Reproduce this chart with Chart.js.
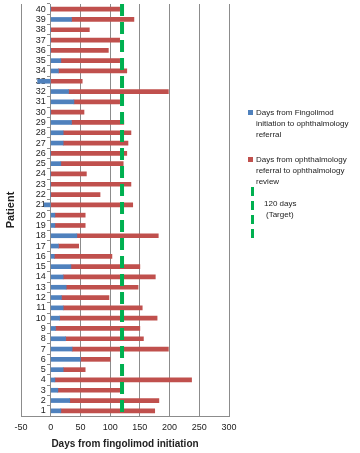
<!DOCTYPE html>
<html>
<head>
<meta charset="utf-8">
<script src="https://cdn.jsdelivr.net/npm/chart.js@4/dist/chart.umd.min.js"></script>
<style>
  body { margin: 0; background: #fff; }
</style>
</head>
<body>
<canvas id="mychart" width="360" height="453"></canvas>
<script>
'use strict';

// patients 1..40
const patients = ['1','2','3','4','5','6','7','8','9','10','11','12','13','14','15','16','17','18','19','20',
  '21','22','23','24','25','26','27','28','29','30','31','32','33','34','35','36','37','38','39','40'];

// days from fingolimod initiation to ophthalmology referral
const toReferral = [17,32,12,7,21,50,36,25,8,15,21,18,26,21,34,6,13,44,7,7,
  -11,0,0,0,17,0,21,21,35,0,39,30,-22,13,17,0,0,0,35,0];

// days from ophthalmology referral to ophthalmology review
const toReview = [158,150,106,230,37,50,162,131,142,164,133,80,121,155,116,97,34,137,51,51,
  138,83,135,60,105,128,109,114,88,56,77,168,53,115,99,97,116,65,105,116];

const xTicks = [-50,0,50,100,150,200,250,300];
const target = 120;

const blue = '#4f81bd';
const red = '#c0504d';
const green = '#00b050';
const font = "'Liberation Sans', sans-serif";

///////////////// target line + legend /////////////////
const extras = {
  id: 'extras',
  afterDatasetsDraw(chart) {
    const ctx = chart.ctx;
    const area = chart.chartArea;
    const x = chart.scales.x.getPixelForValue(target);
    ctx.save();
    ctx.strokeStyle = green;
    ctx.lineWidth = 4;
    ctx.setLineDash([12, 6]);
    ctx.beginPath();
    ctx.moveTo(x, area.top);
    ctx.lineTo(x, area.bottom);
    ctx.stroke();
    ctx.restore();
  },
  afterDraw(chart) {
    const ctx = chart.ctx;
    ctx.save();
    ctx.font = '8px ' + font;
    ctx.textBaseline = 'middle';

    ctx.fillStyle = blue;
    ctx.fillRect(248, 110, 5, 5);
    ctx.fillStyle = '#222';
    ['Days from Fingolimod', 'initiation to ophthalmology', 'referral'].forEach((t, i) => {
      ctx.fillText(t, 256, 113 + i * 11);
    });

    ctx.fillStyle = red;
    ctx.fillRect(248, 157, 5, 5);
    ctx.fillStyle = '#222';
    ['Days from ophthalmology', 'referral to ophthalmology', 'review'].forEach((t, i) => {
      ctx.fillText(t, 256, 160 + i * 11);
    });

    ctx.strokeStyle = green;
    ctx.lineWidth = 3;
    ctx.setLineDash([9, 5]);
    ctx.beginPath();
    ctx.moveTo(252.5, 187);
    ctx.lineTo(252.5, 238);
    ctx.stroke();
    ctx.fillText('120 days', 264, 204);
    ctx.fillText('(Target)', 266, 215);
    ctx.restore();
  }
};

let ctx = document.getElementById('mychart').getContext('2d');
let chart1 = new Chart(ctx, {
  type: 'bar',
  data: {
    labels: patients,
    datasets: [{
      label: 'Days from Fingolimod initiation to ophthalmology referral',
      data: toReferral,
      backgroundColor: blue,
      barThickness: 4
    }, {
      label: 'Days from ophthalmology referral to ophthalmology review',
      data: toReview,
      backgroundColor: red,
      barThickness: 4
    }]
  },
  options: {
    indexAxis: 'y',
    responsive: false,
    animation: false,
    layout: { padding: { top: 4, right: 131, left: 0, bottom: 0 } },
    plugins: {
      legend: { display: false },
      tooltip: { enabled: false }
    },
    scales: {
      x: {
        type: 'linear',
        stacked: true,
        min: -50,
        max: 300,
        afterBuildTicks: (axis) => { axis.ticks = xTicks.map(v => ({ value: v })); },
        afterFit: (axis) => { axis.height = 37; axis.paddingLeft = 0; axis.paddingRight = 0; },
        grid: { color: '#8c8c8c', drawTicks: false },
        border: { color: '#8c8c8c' },
        ticks: { padding: 6, color: '#222', font: { family: font, size: 9 } },
        title: {
          display: true,
          text: 'Days from fingolimod initiation',
          color: '#222',
          font: { family: font, size: 10, weight: 'bold' },
          padding: { top: 2, bottom: 3 }
        }
      },
      y: {
        type: 'category',
        stacked: true,
        reverse: true,
        position: { x: 0 },
        afterFit: (axis) => { axis.paddingTop = 0; axis.paddingBottom = 0; },
        grid: { drawOnChartArea: false, tickLength: 3, color: '#8c8c8c' },
        border: { color: '#8c8c8c' },
        ticks: {
          color: '#222',
          autoSkip: false,
          font: { family: font, size: 9 },
          // labels sit right on the axis line otherwise
          callback: function(v) { return this.getLabelForValue(v) + '  '; }
        }
      },
      y2: {
        type: 'linear',
        position: 'left',
        grid: { display: false },
        border: { display: false },
        ticks: { display: false },
        afterFit: (axis) => { axis.width = 21; axis.paddingTop = 0; axis.paddingBottom = 0; },
        title: {
          display: true,
          text: 'Patient',
          color: '#222',
          font: { family: font, size: 11, weight: 'bold' },
          padding: { top: 4, bottom: 4 }
        }
      }
    }
  },
  plugins: [extras]
});
</script>
</body>
</html>
